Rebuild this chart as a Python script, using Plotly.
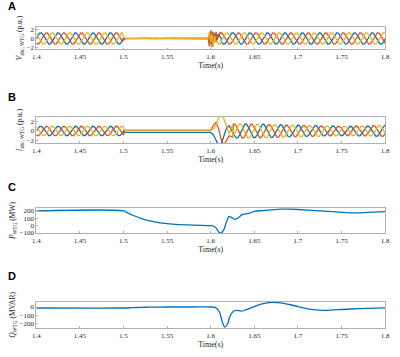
import numpy as np
import plotly.graph_objects as go

# ---------------- data ----------------
F_HZ = 50.0
PHASE_SHIFT_DEG = [0, -120, 120]          # blue, orange, yellow
PHASE_COLORS = ["#0072BD", "#D95319", "#EDB120"]

# Panel A: voltage segments (start, end, amplitude p.u.)
A_seg_start = [1.4, 1.5015, 1.612]
A_seg_end = [1.4985, 1.597, 1.8]
A_seg_amp = [1.3, 0.04, 1.3]
# Panel A transient points around fault clearing
A_tr_t = [1.597, 1.5985, 1.600, 1.6015, 1.603, 1.6045, 1.606, 1.6075, 1.609, 1.6105, 1.612]
A_tr_a = [0.0, 0.4, -1.2, 1.6, -0.9, 1.1, -0.6, 0.8, 0.9, 0.5, 0.0]
A_tr_b = [0.0, -1.8, 1.9, -2.0, 1.4, -0.8, 1.5, -0.3, 0.6, 1.3, 1.2]
A_tr_c = [0.0, 1.5, -0.9, 1.1, -1.8, 0.6, -1.0, -0.7, -1.3, -1.2, -1.1]
# fault-onset points at 1.5
A_on_t = [1.4985, 1.5, 1.5015]
A_on_a = [-0.6, 0.2, 0.0]
A_on_b = [-0.6, -0.4, 0.0]
A_on_c = [1.2, 0.3, 0.0]

# Panel B: current segments
B_seg_start = [1.4, 1.625]
B_seg_end = [1.5, 1.8]
B_pre_amp = 1.0
B_post_cycle_amp = [1.5, 1.45, 1.35, 1.25, 1.15, 1.05, 1.0, 1.05, 1.15]
B_tr_t = [1.5, 1.501, 1.6, 1.603, 1.606, 1.609, 1.612, 1.615, 1.618, 1.621, 1.625]
B_tr_a = [0.0, -0.3, -0.3, -0.8, -2.2, -3.0, -2.8, -1.0, 0.6, 1.1, 0.0]
B_tr_b = [-0.87, 0.12, 0.12, 1.2, 1.8, 0.5, -1.8, -3.0, -2.0, -1.0, -1.3]
B_tr_c = [0.87, 0.2, 0.2, 0.4, 1.2, 2.8, 3.4, 2.6, 0.8, -0.6, 1.3]

# Panel C: active power (MW)
P_t = [1.4, 1.5, 1.505, 1.51, 1.52, 1.53, 1.54, 1.55, 1.56, 1.58, 1.6, 1.603, 1.606,
       1.609, 1.612, 1.615, 1.618, 1.621, 1.624, 1.628, 1.632, 1.636, 1.64, 1.645,
       1.65, 1.66, 1.67, 1.68, 1.69, 1.7, 1.72, 1.74, 1.76, 1.77, 1.78, 1.8]
P_v = [200, 200, 172, 145, 100, 65, 42, 27, 16, 6, 0, -5, -30, -85, -100, -55, 50,
       125, 110, 85, 110, 150, 160, 172, 195, 205, 215, 225, 225, 220, 205, 190,
       175, 175, 180, 190]

# Panel D: reactive power (MVAR)
Q_t = [1.4, 1.5, 1.51, 1.52, 1.53, 1.55, 1.58, 1.6, 1.605, 1.61, 1.613, 1.616, 1.619,
       1.622, 1.626, 1.63, 1.635, 1.64, 1.65, 1.66, 1.67, 1.68, 1.69, 1.7, 1.71, 1.72,
       1.73, 1.74, 1.75, 1.77, 1.8]
Q_v = [-12, -12, -8, -4, -2, 0, 0, 0, -5, -60, -170, -240, -210, -110, -50, -40, -50,
       -35, 5, 40, 55, 50, 30, 5, -20, -35, -40, -35, -30, -20, -10]

X_TICKS = [1.4, 1.45, 1.5, 1.55, 1.6, 1.65, 1.7, 1.75, 1.8]
X_TICK_TEXT = ["1.4", "1.45", "1.5", "1.55", "1.6", "1.65", "1.7", "1.75", "1.8"]

# ---------------- build waveforms ----------------
def sine_seg(t0, t1, amp, shift_deg):
    t = np.arange(t0, t1 + 1e-9, 0.0002)
    return t, amp * np.sin(2 * np.pi * F_HZ * t + np.deg2rad(shift_deg))

def sine_seg_cycles(t0, t1, cycle_amps, shift_deg):
    t = np.arange(t0, t1 + 1e-9, 0.0002)
    idx = np.clip(((t - t0) * F_HZ).astype(int), 0, len(cycle_amps) - 1)
    amps = np.array(cycle_amps)[idx]
    return t, amps * np.sin(2 * np.pi * F_HZ * t + np.deg2rad(shift_deg))

A_tr = [A_tr_a, A_tr_b, A_tr_c]
A_on = [A_on_a, A_on_b, A_on_c]
A_series = []
for k in range(3):
    parts_t, parts_y = [], []
    t, y = sine_seg(A_seg_start[0], A_seg_end[0], A_seg_amp[0], PHASE_SHIFT_DEG[k])
    parts_t.append(t); parts_y.append(y)
    parts_t.append(np.array(A_on_t)); parts_y.append(np.array(A_on[k]))
    t, y = sine_seg(A_seg_start[1], A_seg_end[1], A_seg_amp[1], PHASE_SHIFT_DEG[k] + 40)
    parts_t.append(t); parts_y.append(y)
    parts_t.append(np.array(A_tr_t)); parts_y.append(np.array(A_tr[k]))
    t, y = sine_seg(A_seg_start[2], A_seg_end[2], A_seg_amp[2], PHASE_SHIFT_DEG[k])
    parts_t.append(t); parts_y.append(y)
    A_series.append((np.concatenate(parts_t), np.concatenate(parts_y)))

B_tr = [B_tr_a, B_tr_b, B_tr_c]
B_series = []
for k in range(3):
    t1, y1 = sine_seg(B_seg_start[0], B_seg_end[0], B_pre_amp, PHASE_SHIFT_DEG[k])
    t2, y2 = sine_seg_cycles(B_seg_start[1], B_seg_end[1], B_post_cycle_amp,
                             PHASE_SHIFT_DEG[k] + 90)
    tt = np.concatenate([t1[:-1], np.array(B_tr_t), t2[1:]])
    yy = np.concatenate([y1[:-1], np.array(B_tr[k]), y2[1:]])
    B_series.append((tt, yy))

# ---------------- figure ----------------
W, H = 400, 357
X0, X1 = 33, 390
boxes = [(27, 50), (118, 145), (210, 236), (305, 332)]   # top, bottom in px
letters = [("A", 6), ("B", 98), ("C", 189), ("D", 279)]

SERIF = "Liberation Serif, Times New Roman, serif"
fig = go.Figure()

for k in range(3):
    fig.add_trace(go.Scatter(x=A_series[k][0], y=A_series[k][1], mode="lines",
                             line=dict(color=PHASE_COLORS[k], width=1.3),
                             xaxis="x", yaxis="y", showlegend=False))
for k in range(3):
    fig.add_trace(go.Scatter(x=B_series[k][0], y=B_series[k][1], mode="lines",
                             line=dict(color=PHASE_COLORS[k], width=1.3),
                             xaxis="x2", yaxis="y2", showlegend=False))
fig.add_trace(go.Scatter(x=P_t, y=P_v, mode="lines", line=dict(color=PHASE_COLORS[0], width=1.3,
                         shape="spline", smoothing=0.8),
                         xaxis="x3", yaxis="y3", showlegend=False))
fig.add_trace(go.Scatter(x=Q_t, y=Q_v, mode="lines", line=dict(color=PHASE_COLORS[0], width=1.3,
                         shape="spline", smoothing=0.8),
                         xaxis="x4", yaxis="y4", showlegend=False))

ytitles = ["<i>V</i><sub>abc, WTG</sub> (p.u.)", "<i>I</i><sub>abc, WTG</sub> (p.u.)",
           "<i>P</i><sub>WTG</sub> (MW)", "<i>Q</i><sub>WTG</sub> (MVAR)"]
yranges = [[-2.5, 2.7], [-2.6, 3.0], [-105, 245], [-255, 65]]
ytickv = [[-2, 0, 2], [-2, 0, 2], [-100, 0, 100, 200], [-200, -100, 0]]

layout = dict(width=W, height=H, margin=dict(l=0, r=0, t=0, b=0),
              paper_bgcolor="white", plot_bgcolor="white",
              font=dict(family=SERIF, size=7, color="#262626"))
axis_common = dict(showline=True, mirror=True, linecolor="#b0b0b0", linewidth=0.8,
                   ticks="inside", ticklen=2, tickcolor="#b0b0b0", showgrid=False,
                   zeroline=False, tickfont=dict(family=SERIF, size=7, color="#262626"))
for i in range(4):
    top, bot = boxes[i]
    suffix = "" if i == 0 else str(i + 1)
    layout["xaxis" + suffix] = dict(axis_common, domain=[X0 / W, X1 / W], range=[1.4, 1.8],
                                    tickvals=X_TICKS, ticktext=X_TICK_TEXT,
                                    anchor="y" + suffix,
                                    title=dict(text="Time(s)", standoff=0,
                                               font=dict(family=SERIF, size=8)))
    layout["yaxis" + suffix] = dict(axis_common, domain=[1 - bot / H, 1 - top / H],
                                    range=yranges[i], tickvals=ytickv[i],
                                    anchor="x" + suffix,
                                    title=dict(text=ytitles[i], standoff=2,
                                               font=dict(family=SERIF, size=7.5)))

annotations = []
for lab, ypx in letters:
    annotations.append(dict(text="<b>%s</b>" % lab, x=2 / W, y=1 - ypx / H, xref="paper",
                            yref="paper", xanchor="left", yanchor="middle", showarrow=False,
                            font=dict(family="Liberation Sans, Arial, sans-serif", size=11,
                                      color="black")))
layout["annotations"] = annotations
fig.update_layout(**layout)

fig.write_html("out.html", config={"displayModeBar": False},
               post_script="document.body.style.margin='0px';")
